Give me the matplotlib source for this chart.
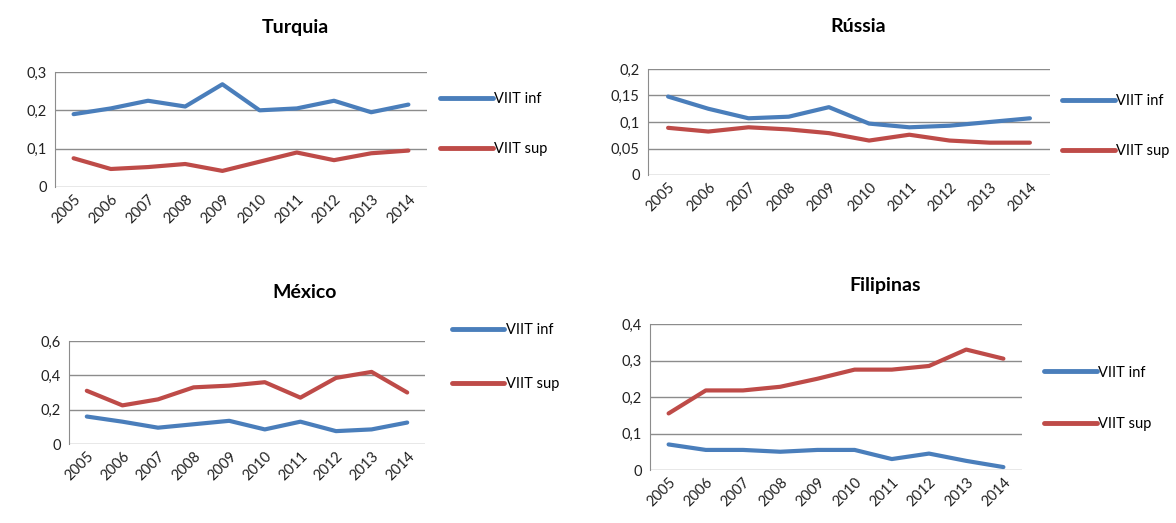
import numpy as np
from matplotlib import pyplot as plt
from matplotlib.ticker import FuncFormatter

plt.rcParams['font.family'] = ['Lato', 'DejaVu Sans']

anos = ['2005', '2006', '2007', '2008', '2009', '2010', '2011', '2012', '2013', '2014']

turquia_inf = [0.19, 0.205, 0.225, 0.21, 0.268, 0.2, 0.205, 0.225, 0.195, 0.215]
turquia_sup = [0.075, 0.047, 0.052, 0.06, 0.042, 0.066, 0.09, 0.07, 0.088, 0.095]

russia_inf = [0.148, 0.125, 0.107, 0.11, 0.128, 0.097, 0.09, 0.093, 0.1, 0.107]
russia_sup = [0.089, 0.082, 0.09, 0.086, 0.079, 0.065, 0.076, 0.065, 0.061, 0.061]

mexico_inf = [0.16, 0.13, 0.095, 0.115, 0.135, 0.085, 0.13, 0.075, 0.085, 0.125]
mexico_sup = [0.31, 0.225, 0.26, 0.33, 0.34, 0.36, 0.27, 0.385, 0.42, 0.3]

filipinas_inf = [0.07, 0.055, 0.055, 0.05, 0.055, 0.055, 0.03, 0.045, 0.025, 0.008]
filipinas_sup = [0.155, 0.218, 0.218, 0.228, 0.25, 0.275, 0.275, 0.285, 0.33, 0.305]

azul = '#4a7ebb'
vermelho = '#be4b48'

fig = plt.figure(figsize=(11.76, 5.23), dpi=100)


def virgula(v, pos):
    s = ('%.2f' % v).rstrip('0').rstrip('.')
    return s.replace('.', ',')


def painel(rect, titulo, inf, sup, ymax, passo, title_xy, leg_xy, spacing):
    ax = fig.add_axes(rect)
    x = np.arange(len(anos))
    ax.plot(x, inf, color=azul, lw=3, label='VIIT inf', solid_capstyle='round')
    ax.plot(x, sup, color=vermelho, lw=3, label='VIIT sup', solid_capstyle='round')
    ax.set_xlim(-0.5, len(anos) - 0.5)
    ax.set_ylim(0, ymax)
    ax.set_yticks(np.arange(0, ymax + passo / 2, passo))
    ax.yaxis.set_major_formatter(FuncFormatter(virgula))
    ax.set_xticks(x)
    ax.set_xticklabels(anos, rotation=45, ha='right', rotation_mode='anchor')
    ax.tick_params(length=0, labelsize=10.5, colors='#222222', pad=6)
    ax.tick_params(axis='x', pad=4)
    ax.grid(axis='y', color='#8c8c8c', lw=1)
    ax.set_axisbelow(True)
    for s in ['top', 'right', 'bottom']:
        ax.spines[s].set_visible(False)
    ax.spines['left'].set_color('#8c8c8c')
    fig.text(title_xy[0], title_xy[1], titulo, fontsize=14, fontweight='bold',
             ha='center', va='center')
    leg = ax.legend(loc='center left', bbox_to_anchor=leg_xy, frameon=False,
                    handlelength=3.6, handletextpad=0.1, labelspacing=spacing,
                    borderpad=0, borderaxespad=0, fontsize=10.5)
    for h in leg.get_lines():
        h.set_linewidth(3.5)
    return ax


W, H = 1176, 523


def r(x0, x1, y0, y1):
    return [x0 / W, 1 - y1 / H, (x1 - x0) / W, (y1 - y0) / H]


painel(r(55, 427, 72, 187), 'Turquia', turquia_inf, turquia_sup, 0.3, 0.1,
       (295 / W, 1 - 27 / H), (1.035, 0.55), 2.45)
painel(r(648, 1050, 69, 175), 'Rússia', russia_inf, russia_sup, 0.2, 0.05,
       (858 / W, 1 - 27 / H), (1.03, 0.462), 2.45)
painel(r(69, 425, 341, 444), 'México', mexico_inf, mexico_sup, 0.6, 0.2,
       (305 / W, 1 - 293 / H), (1.075, 0.845), 2.75)
painel(r(650, 1022, 324, 470), 'Filipinas', filipinas_inf, filipinas_sup, 0.4, 0.1,
       (885 / W, 1 - 285 / H), (1.06, 0.49), 2.6)

fig.savefig('out.png', dpi=100)
